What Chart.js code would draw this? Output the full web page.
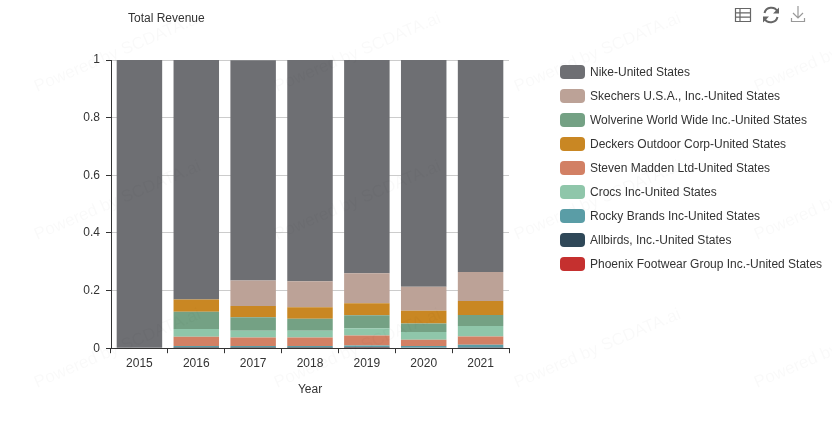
<!DOCTYPE html>
<html>
<head>
<meta charset="utf-8">
<script src="https://cdn.jsdelivr.net/npm/chart.js@4"></script>
<style>
    body { margin: 0; background: #fff; font-family: "Liberation Sans", sans-serif; color: #333; }
    #contenedor { position: relative; width: 832px; height: 428px; overflow: hidden; }
    #titulo { position: absolute; left: 128px; top: 11px; font-size: 12px; line-height: 15px; }
    #leyenda { position: absolute; left: 560px; top: 60px; font-size: 12px; }
    .fila { display: flex; align-items: center; height: 24px; white-space: nowrap; }
    .caja { width: 25px; height: 14px; border-radius: 4px; margin-right: 5px; }
    #iconos { position: absolute; left: 734px; top: 4px; }
</style>
</head>
<body>
<div id="contenedor">
    <canvas id="grafico" width="832" height="428"></canvas>
    <div id="titulo">Total Revenue</div>
    <div id="leyenda"></div>
    <svg id="iconos" width="74" height="20" fill="none" stroke="#666" stroke-width="1.2">
        <!-- tabla -->
        <path d="M1.5 4.5h15v13h-15zM1.5 8.8h15M1.5 13.2h15M6 4.5v13"/>
        <!-- recargar -->
        <path stroke-width="2" d="M43.5 7.5A7 7 0 0 0 30.5 9M30.5 14.5A7 7 0 0 0 43.5 13"/>
        <path fill="#666" stroke="none" d="M45 3.5v6h-6zM29 18.5v-6h6z"/>
        <!-- descarga -->
        <path stroke="#999" d="M64 2v12M59 9l5 5 5-5M57.5 14v3.5h13V14"/>
    </svg>
</div>
<script>
// Datos (null = sin dato ese anio)
const anios = ['2015', '2016', '2017', '2018', '2019', '2020', '2021'];
const ticksY = [0, 0.2, 0.4, 0.6, 0.8, 1];

const nike = [1, 0.831, 0.764, 0.768, 0.74, 0.787, 0.736];
const skechers = [null, null, 0.089, 0.09, 0.104, 0.083, 0.1];
const wolverine = [null, 0.06, 0.047, 0.042, 0.045, 0.03, 0.038];
const deckers = [null, 0.043, 0.039, 0.04, 0.042, 0.044, 0.049];
const madden = [null, 0.032, 0.03, 0.03, 0.035, 0.021, 0.029];
const crocs = [null, 0.027, 0.023, 0.023, 0.025, 0.027, 0.036];
const rocky = [null, 0.007, 0.007, 0.007, 0.007, 0.006, 0.009];
const allbirds = [null, null, null, null, 0.002, 0.002, 0.003];
const phoenix = [null, 0.0003, 0.0003, 0.0003, 0.0003, null, null];

const nombres = [
    'Nike-United States',
    'Skechers U.S.A., Inc.-United States',
    'Wolverine World Wide Inc.-United States',
    'Deckers Outdoor Corp-United States',
    'Steven Madden Ltd-United States',
    'Crocs Inc-United States',
    'Rocky Brands Inc-United States',
    'Allbirds, Inc.-United States',
    'Phoenix Footwear Group Inc.-United States'
];
const colores = ['#6e6f73', '#bca297', '#74a184', '#c98723', '#d28064', '#8fc6aa', '#5a9da6', '#2f4858', '#c5302f'];
const series = [nike, skechers, wolverine, deckers, madden, crocs, rocky, allbirds, phoenix];

// Orden de la pila de abajo hacia arriba (no coincide con la leyenda)
const ordenPila = [8, 7, 6, 4, 5, 2, 3, 1, 0];

const leyenda = document.getElementById('leyenda');
nombres.forEach((nombre, i) => {
    const fila = document.createElement('div');
    fila.className = 'fila';
    fila.innerHTML = `<span class="caja" style="background:${colores[i]}"></span><span>${nombre}</span>`;
    leyenda.appendChild(fila);
});

// Marca de agua repetida
const marcaAgua = {
    id: 'marcaAgua',
    afterDraw(chart) {
        const ctx = chart.ctx;
        ctx.save();
        ctx.font = '17px "Liberation Sans"';
        ctx.fillStyle = 'rgba(0,0,0,0.022)';
        for (let fila = 0; fila < 3; fila++) {
            for (let col = 0; col < 4; col++) {
                ctx.save();
                ctx.translate(37 + col * 240, 92 + fila * 148);
                ctx.rotate(-23 * Math.PI / 180);
                ctx.fillText('Powered by SCDATA.ai', 0, 0);
                ctx.restore();
            }
        }
        ctx.restore();
    }
};

Chart.defaults.font.family = '"Liberation Sans", sans-serif';
Chart.defaults.font.size = 12;
Chart.defaults.color = '#333';

new Chart(document.getElementById('grafico'), {
    type: 'bar',
    data: {
        labels: anios,
        datasets: ordenPila.map(i => ({
            label: nombres[i],
            data: series[i],
            backgroundColor: colores[i],
            barPercentage: 0.8,
            categoryPercentage: 1
        }))
    },
    options: {
        responsive: false,
        animation: false,
        layout: { padding: { top: 60, right: 323, bottom: 31 } },
        plugins: { legend: { display: false }, title: { display: false }, tooltip: { enabled: false } },
        scales: {
            x: {
                stacked: true,
                border: { color: '#333' },
                grid: { drawOnChartArea: false, tickColor: '#333', tickLength: 5 },
                ticks: { padding: 3, maxRotation: 0 },
                title: { display: true, text: 'Year', padding: { top: 9, bottom: 0 } }
            },
            y: {
                stacked: true,
                min: 0,
                max: 1,
                afterFit: (escala) => { escala.width = 111; },
                afterBuildTicks: (escala) => { escala.ticks = ticksY.map(v => ({ value: v })); },
                border: { color: '#333' },
                grid: { color: '#ccc', tickColor: '#333', tickLength: 5 },
                ticks: { padding: 6, callback: (v) => String(v) }
            }
        }
    },
    plugins: [marcaAgua]
});
</script>
</body>
</html>
